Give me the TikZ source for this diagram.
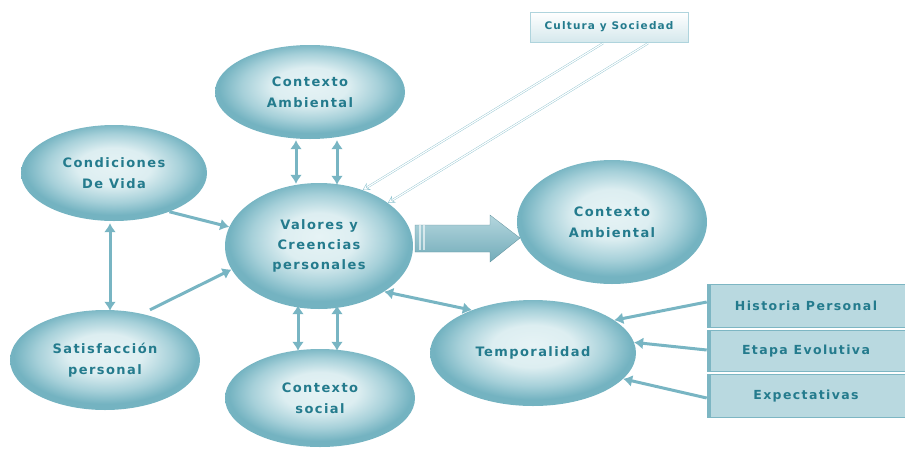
\documentclass[tikz,border=0pt]{standalone}
\usepackage{fontspec}
\setmainfont{DejaVu Sans}
\newfontfamily\lblfont[LetterSpace=11]{DejaVu Sans}
\usetikzlibrary{arrows.meta,shapes.geometric,calc}
\definecolor{ellout}{HTML}{74B3C1}
\definecolor{ellmid}{HTML}{A6D0D9}
\definecolor{ellin}{HTML}{E6F3F5}
\definecolor{txt}{HTML}{247B8D}
\definecolor{arr}{HTML}{78B5C3}
\definecolor{boxfill}{HTML}{B9D9E0}
\definecolor{boxedge}{HTML}{7DB6C3}
\definecolor{thin}{HTML}{8CC2CE}
\pgfdeclareradialshading{bubble}{\pgfpoint{0bp}{4bp}}{%
  color(0bp)=(ellin); color(10bp)=(ellin!85!ellmid); color(18bp)=(ellmid); color(24bp)=(ellout); color(50bp)=(ellout)}
\begin{document}
\begin{tikzpicture}[x=1pt,y=-1pt,
  bub/.style={ellipse, inner sep=0pt, shading=bubble,
    text=txt, align=center, font=\lblfont\bfseries\fontsize{13}{21}\selectfont},
  dbl/.style={draw=arr, line width=3pt, {Latex[length=9pt,width=12pt]}-{Latex[length=9pt,width=12pt]}},
  one/.style={draw=arr, line width=3pt, -{Latex[length=9pt,width=12pt]}},
  thinarr/.style={draw=thin, line width=0.4pt, double=white, double distance=1.2pt, -{Stealth[length=7pt,width=8pt,open]}},
  rbox/.style={rectangle, draw=boxedge, line width=0.6pt, fill=boxfill, minimum width=198pt, minimum height=42pt,
    inner sep=0pt, text=txt, font=\lblfont\bfseries\fontsize{12.5}{14}\selectfont},
]
\useasboundingbox (0,0) rectangle (905,448);

% ellipses
\node[bub, minimum width=190pt, minimum height=94pt] (ca) at (310,92) {Contexto\\Ambiental};
\node[bub, minimum width=186pt, minimum height=96pt] (cv) at (114,173) {Condiciones\\De Vida};
\node[bub, minimum width=188pt, minimum height=126pt, font=\lblfont\bfseries\fontsize{13}{20}\selectfont] (val) at (319,246) {Valores y\\Creencias\\personales};
\node[bub, minimum width=190pt, minimum height=124pt] (ca2) at (612,222) {Contexto\\Ambiental};
\node[bub, minimum width=190pt, minimum height=100pt] (sp) at (105,360) {Satisfacción\\personal};
\node[bub, minimum width=190pt, minimum height=98pt] (cs) at (320,398) {Contexto\\social};
\node[bub, minimum width=206pt, minimum height=106pt] (tem) at (533,353) {Temporalidad};

% Cultura y Sociedad box
\node[rectangle, draw=thin!70, line width=0.6pt, top color=white, bottom color=boxfill!60,
  minimum width=158pt, minimum height=30pt, inner sep=0pt, text=txt,
  font=\lblfont\bfseries\fontsize{10.5}{12}\selectfont] (cys) at (609,27) {Cultura y Sociedad};

% right boxes
\node[rbox, minimum height=43pt] (hp) at (806,306) {Historia Personal};
\node[rbox, minimum height=41pt] (ee) at (806,351) {Etapa Evolutiva};
\node[rbox, minimum height=43pt] (ex) at (806,396) {Expectativas};
\foreach \b in {hp,ee,ex}{\fill[boxedge] (\b.north west) rectangle ($(\b.south west)+(4,0)$);}

% vertical double arrows
\draw[dbl] ($(ca.south)+(-14,1)$) -- ($(val.north)+(-23,1)$);
\draw[dbl] ($(ca.south)+(27,1)$) -- ($(val.north)+(18,2)$);
\draw[dbl] ($(val.south)+(-21,-4)$) -- ($(cs.north)+(-22,2)$);
\draw[dbl] ($(val.south)+(18,-4)$) -- ($(cs.north)+(17,2)$);
\draw[dbl] ($(cv.south)+(-4,2)$) -- ($(sp.north)+(5,1)$);

% one-way arrows into Valores
\draw[one] (cv.-35) -- (val.168);
\draw[one] ($(sp.north)+(45,0)$) -- (val.-165);

% Valores <-> Temporalidad
\draw[dbl] (val.-35) -- (tem.145);

% right box arrows
\draw[one] ($(hp.west)+(0,-4)$) -- (tem.22);
\draw[one] ($(ee.west)+(0,-1)$) -- (tem.6);
\draw[one] ($(ex.west)+(0,2)$) -- (tem.-16);

% thin double lines from Cultura y Sociedad
\draw[thinarr] ($(cys.south)+(-6,1)$) -- (val.52);
\draw[thinarr] ($(cys.south)+(39,1)$) -- (val.32);

% block arrow
\coordinate (bs) at (415,238);
\shade[top color=arr!55, bottom color=arr!95!black, draw=arr!80!black, line width=0.3pt]
  (bs) ++(0,-13) -- ++(75,0) -- ++(0,-10) -- ++(30,23) -- ++(-30,24) -- ++(0,-10) -- ++(-75,0) -- cycle;
\fill[white, opacity=0.6] ($(bs)+(4,-13)$) rectangle ($(bs)+(5.5,12)$);
\fill[white, opacity=0.6] ($(bs)+(8,-13)$) rectangle ($(bs)+(9.5,12)$);
\end{tikzpicture}
\end{document}
